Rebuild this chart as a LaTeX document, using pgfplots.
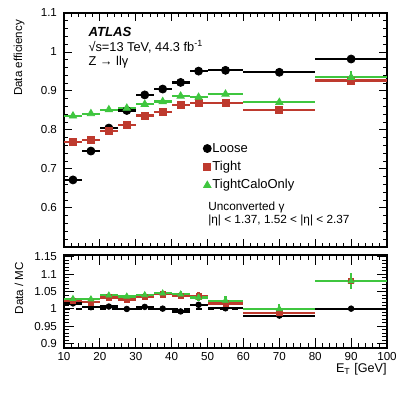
\documentclass[border=0pt]{standalone}
\usepackage{fontspec}
\setmainfont{Liberation Sans}
\usepackage{pgfplots}
\usepackage{pgfplotstable}
\pgfplotsset{compat=1.18}
\definecolor{TightRed}{HTML}{BE3A2E}
\definecolor{CaloGreen}{HTML}{3FC63F}

% efficiency in data
\pgfplotstableread{
x    ex   yL    eL    yT    eT    yC    eC
12.5 2.5  0.672 0.003 0.770 0.003 0.836 0.003
17.5 2.5  0.746 0.003 0.775 0.003 0.842 0.003
22.5 2.5  0.805 0.003 0.797 0.003 0.852 0.003
27.5 2.5  0.850 0.003 0.813 0.003 0.856 0.003
32.5 2.5  0.890 0.003 0.837 0.003 0.866 0.003
37.5 2.5  0.905 0.003 0.846 0.003 0.873 0.003
42.5 2.5  0.922 0.003 0.865 0.003 0.887 0.003
47.5 2.5  0.951 0.003 0.869 0.004 0.884 0.004
55   5    0.953 0.003 0.870 0.004 0.892 0.005
70   10   0.948 0.004 0.851 0.008 0.871 0.008
90   10   0.982 0.004 0.927 0.012 0.935 0.015
}\eff

% data / MC
\pgfplotstableread{
x    ex   yL    eL    yT    eT    yC    eC
12.5 2.5  1.016 0.005 1.023 0.006 1.029 0.007
17.5 2.5  1.005 0.005 1.019 0.006 1.028 0.007
22.5 2.5  1.007 0.004 1.033 0.005 1.039 0.005
27.5 2.5  1.000 0.004 1.027 0.005 1.036 0.005
32.5 2.5  1.006 0.004 1.035 0.005 1.040 0.005
37.5 2.5  1.001 0.004 1.042 0.005 1.045 0.006
42.5 2.5  0.993 0.004 1.037 0.006 1.042 0.010
47.5 2.5  1.012 0.005 1.036 0.012 1.033 0.010
55   5    1.002 0.004 1.016 0.010 1.024 0.012
70   10   0.981 0.006 0.988 0.012 1.000 0.015
90   10   1.001 0.005 1.081 0.020 1.080 0.022
}\ratio

\pgfplotsset{
  root/.style={
    scale only axis,width=161.5pt,
    xmin=10,xmax=100,xtick={10,20,...,100},minor x tick num=4,
    tick align=inside,tick pos=both,
    axis line style={line width=0.7pt},
    tick style={line width=0.5pt,black},
    tick label style={font=\fontsize{5.8}{7}\selectfont},
    label style={font=\fontsize{5.8}{7}\selectfont},
    /pgf/number format/assume math mode=true,
    clip=false},
  ebars/.style={error bars/.cd,x dir=both,x explicit,y dir=both,y explicit,
    error mark=none,error bar style={line width=1.1pt,#1}},
  loose/.style={only marks,mark=*,black,mark size=#1,ebars=black},
  tight/.style={only marks,mark=square*,TightRed,mark size=#1,ebars=TightRed},
  calo/.style={only marks,mark=triangle*,CaloGreen,mark size=#1,ebars=CaloGreen},
}

\begin{document}
\begin{tikzpicture}
\useasboundingbox (0,0) rectangle (203.5pt,197.5pt);

% upper panel
\begin{axis}[root,at={(32pt,74pt)},anchor=south west,height=117pt,
  ymin=0.5,ymax=1.1,ytick={0.5,0.6,...,1.1},yticklabels={,0.6,0.7,0.8,0.9,1,1.1},
  minor y tick num=4,xticklabels={},
  major tick length=4pt,minor tick length=2pt,
  ylabel={Data efficiency},
  ylabel style={at={(axis description cs:-0.139,1)},anchor=east,rotate=0},
  legend cell align=left,
  legend image code/.code={\draw[#1] plot coordinates {(0pt,0pt)};},
  legend style={at={(axis description cs:0.430,0.455)},anchor=north west,
    draw=none,fill=none,inner sep=0pt,row sep=1.6pt,
    font=\fontsize{6.5}{7.5}\selectfont,
    nodes={inner sep=0.6pt,text height=5pt,text depth=1.4pt}}]
\addplot[loose=2pt] table[x=x,y=yL,x error=ex,y error=eL]{\eff};
\addplot[tight=1.75pt] table[x=x,y=yT,x error=ex,y error=eT]{\eff};
\addplot[calo=2.1pt] table[x=x,y=yC,x error=ex,y error=eC]{\eff};
\legend{Loose,Tight,TightCaloOnly}
\node[anchor=west,font=\fontsize{6.6}{7.5}\selectfont\bfseries\itshape] at (axis description cs:0.054,0.919) {ATLAS};
\node[anchor=west,font=\fontsize{6.4}{7.5}\selectfont] at (axis description cs:0.054,0.855) {√s=13 TeV, 44.3 fb\textsuperscript{-1}};
\node[anchor=west,font=\fontsize{6.4}{7.5}\selectfont] at (axis description cs:0.054,0.791) {Z → llγ};
\node[anchor=west,font=\fontsize{5.9}{7}\selectfont] at (axis description cs:0.425,0.171) {Unconverted γ};
\node[anchor=west,font=\fontsize{5.9}{7}\selectfont] at (axis description cs:0.425,0.115) {|η| < 1.37, 1.52 < |η| < 2.37};
\end{axis}

% ratio panel
\begin{axis}[root,at={(32pt,23.5pt)},anchor=south west,height=46.5pt,
  ymin=0.888,ymax=1.155,ytick={0.9,0.95,1,1.05,1.1,1.15},
  minor ytick={0.89,0.91,0.92,0.93,0.94,0.96,0.97,0.98,0.99,1.01,1.02,1.03,1.04,1.06,1.07,1.08,1.09,1.11,1.12,1.13,1.14},
  xtick={10,20,...,100},
  xticklabel style={yshift=1.5pt},
  major tick length=5pt,minor tick length=2.5pt,
  ylabel={Data / MC},
  ylabel style={at={(axis description cs:-0.139,1)},anchor=east},
  xlabel={E\textsubscript{T} [GeV]},
  xlabel style={at={(axis description cs:1,-0.165)},anchor=north east,inner sep=0pt,
    font=\fontsize{6.3}{7.5}\selectfont}]
\addplot[black,dashed,line width=0.6pt] coordinates {(10,1) (100,1)};
\addplot[loose=1.4pt] table[x=x,y=yL,x error=ex,y error=eL]{\ratio};
\addplot[tight=1.3pt] table[x=x,y=yT,x error=ex,y error=eT]{\ratio};
\addplot[calo=1.7pt] table[x=x,y=yC,x error=ex,y error=eC]{\ratio};
\end{axis}
\end{tikzpicture}
\end{document}
